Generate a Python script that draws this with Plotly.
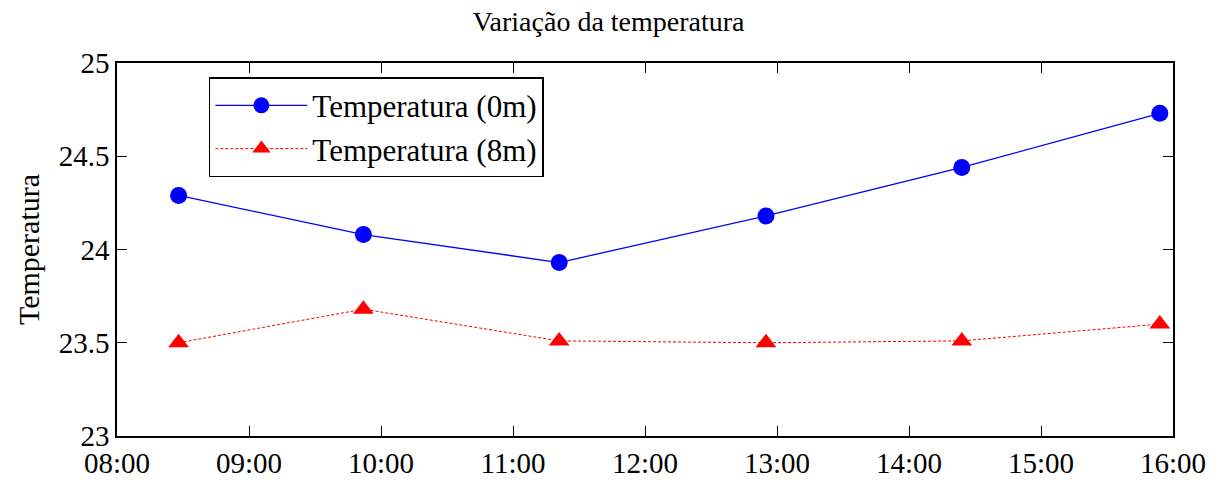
import plotly.graph_objects as go

times = ["2024-01-01 08:28", "2024-01-01 09:52", "2024-01-01 11:21",
         "2024-01-01 12:55", "2024-01-01 14:24", "2024-01-01 15:54"]
temp_0m = [24.29, 24.08, 23.93, 24.18, 24.44, 24.73]
temp_8m = [23.50, 23.68, 23.51, 23.50, 23.51, 23.60]
series_names = ["Temperatura (0m)", "Temperatura (8m)"]
tick_vals = ["2024-01-01 %02d:00" % h for h in range(8, 17)]
tick_text = ["%02d:00" % h for h in range(8, 17)]

FONT = "'Liberation Serif', 'DejaVu Serif', serif"

fig = go.Figure()
fig.add_trace(go.Scatter(x=times, y=temp_0m, name=series_names[0], mode="lines+markers",
                         line=dict(color="#0000ff", width=1.3),
                         marker=dict(symbol="circle", size=17, color="#0000ff")))
fig.add_trace(go.Scatter(x=times, y=temp_8m, name=series_names[1], mode="lines+markers",
                         line=dict(color="#ff0000", width=1, dash="3px,2px"),
                         marker=dict(symbol="triangle-up", size=18, color="#ff0000")))

axis_common = dict(showline=True, linecolor="black", linewidth=1.5, mirror="ticks",
                   ticks="inside", ticklen=10, tickwidth=1.2, tickcolor="black",
                   showgrid=False, zeroline=False, automargin=False,
                   tickfont=dict(family=FONT, size=29, color="black"))

fig.update_xaxes(type="date", range=["2024-01-01 08:00", "2024-01-01 16:00"],
                 tickvals=tick_vals, ticktext=tick_text, **axis_common)
fig.update_yaxes(range=[23, 25], tickvals=[23, 23.5, 24, 24.5, 25],
                 ticktext=["23", "23.5", "24", "24.5", "25"],
                 title=dict(text="Temperatura", font=dict(family=FONT, size=30, color="black"), standoff=10),
                 **axis_common)

fig.update_layout(
    width=1217, height=482,
    margin=dict(l=117, r=44, t=63, b=46),
    paper_bgcolor="white", plot_bgcolor="white",
    title=dict(text="Variação da temperatura", x=0.5, xanchor="center", y=0.955, yanchor="middle",
               font=dict(family=FONT, size=28, color="black")),
    legend=dict(x=0.087, y=0.962, xanchor="left", yanchor="top",
                bgcolor="white", bordercolor="black", borderwidth=1.5,
                font=dict(family=FONT, size=31, color="black"),
                tracegroupgap=0, itemwidth=92),
    showlegend=True,
)

fig.write_html("out.html")
